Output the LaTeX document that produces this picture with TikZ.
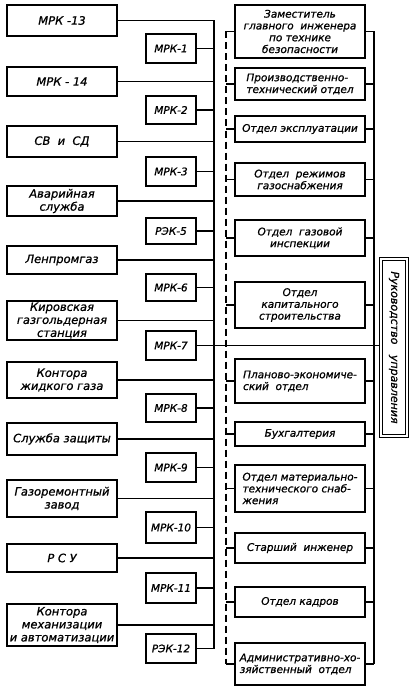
\documentclass[tikz,border=0pt]{standalone}
\usepackage{fontspec}
\setmainfont{DejaVu Sans}[ItalicFeatures={FakeBold=0.9}]
\begin{document}
\begin{tikzpicture}[x=1pt,y=-1pt,
  box/.style={draw, line width=1.4pt, inner sep=1pt, align=center},
  lbox/.style={box, minimum width=110pt, font=\itshape\fontsize{11.5}{13}\selectfont},
  sbox/.style={box, minimum width=50pt, font=\itshape\fontsize{10.5}{12}\selectfont},
  rbox/.style={box, minimum width=130pt, font=\itshape\fontsize{10.5}{11.8}\selectfont},
  wire/.style={line width=1.7pt},
  dwire/.style={line width=1.7pt, dash pattern=on 7pt off 4pt}]
\useasboundingbox (0,0) rectangle (414,690);

% left big boxes
\node[lbox, minimum height=31pt] (l1) at (62,20.5) {МРК -13};
\node[lbox, minimum height=29pt] (l2) at (62,81.5) {МРК - 14};
\node[lbox, minimum height=31pt] (l3) at (62,141.5) {СВ\ \ и\ \ СД};
\node[lbox, minimum height=30pt] (l4) at (62,201) {Аварийная\\служба};
\node[lbox, minimum height=28pt] (l5) at (62,260) {Ленпромгаз};
\node[lbox, minimum height=39pt] (l6) at (62,320.5) {Кировская\\газгольдерная\\станция};
\node[lbox, minimum height=36pt] (l7) at (62,380) {Контора\\жидкого газа};
\node[lbox, minimum height=32pt] (l8) at (62,439) {Служба защиты};
\node[lbox, minimum height=37pt] (l9) at (62,498.5) {Газоремонтный\\завод};
\node[lbox, minimum height=28pt] (l10) at (62,558) {Р\ С\ У};
\node[lbox, minimum height=42pt] (l11) at (62,625) {Контора\\механизации\\и автоматизации};

% small boxes
\node[sbox, minimum height=29pt] (s1) at (171,48.5) {МРК-1};
\node[sbox, minimum height=28pt] (s2) at (171,110) {МРК-2};
\node[sbox, minimum height=29pt] (s3) at (171,171.5) {МРК-3};
\node[sbox, minimum height=26pt] (s5) at (171,231) {РЭК-5};
\node[sbox, minimum height=27pt] (s6) at (171,287.5) {МРК-6};
\node[sbox, minimum height=29pt] (s7) at (171,345.5) {МРК-7};
\node[sbox, minimum height=28pt] (s8) at (171,408) {МРК-8};
\node[sbox, minimum height=29pt] (s9) at (171,467.5) {МРК-9};
\node[sbox, minimum height=31pt] (s10) at (171,527.5) {МРК-10};
\node[sbox, minimum height=30pt] (s11) at (171,588) {МРК-11};
\node[sbox, minimum height=29pt] (s12) at (171,648.5) {РЭК-12};

% right boxes
\node[rbox, minimum height=53pt] (r1) at (300,31.5) {Заместитель\\главного\ \ инженера\\по технике\\безопасности};
\node[rbox, minimum height=32pt, align=left] (r2) at (300,84) {Производственно-\\технический отдел};
\node[rbox, minimum height=26pt] (r3) at (300,129) {Отдел эксплуатации};
\node[rbox, minimum height=33pt] (r4) at (300,179.5) {Отдел\ \ режимов\\газоснабжения};
\node[rbox, minimum height=36pt] (r5) at (300,238) {Отдел\ \ газовой\\инспекции};
\node[rbox, minimum height=46pt] (r6) at (300,305) {Отдел\\капитального\\строительства};
\node[rbox, minimum height=44pt, align=left] (r7) at (300,381) {Планово-экономиче-\\ский\ \ отдел};
\node[rbox, minimum height=24pt] (r8) at (300,434) {Бухгалтерия};
\node[rbox, minimum height=47pt, align=left] (r9) at (300,488.5) {Отдел материально-\\технического снаб-\\жения};
\node[rbox, minimum height=30pt] (r10) at (300,548) {Старший\ \ инженер};
\node[rbox, minimum height=30pt] (r11) at (300,602) {Отдел кадров};
\node[rbox, minimum height=42pt, align=left] (r12) at (300,664) {Административно-хо-\\зяйственный\ \ отдел};

% management box
\node[draw, line width=1.1pt, double, double distance=1.6pt, minimum width=26pt, minimum height=177pt, inner sep=0pt] (ruk) at (394,347.5) {};
\node[rotate=-90, font=\itshape\fontsize{11}{13}\selectfont] (rukt) at (ruk.center) {Руководство\ \ \ управления};

% buses
\coordinate (lbT) at (214,20.5);
\coordinate (lbB) at (214,648.5);
\coordinate (dT) at (226,31.5);
\coordinate (dB) at (226,664);
\coordinate (rbT) at (374,31.5);
\coordinate (rbB) at (374,664);

\draw[wire] (lbT) -- (lbB);
\draw[dwire] (dT) -- (dB);
\draw[wire] (rbT) -- (rbB);

\foreach \n in {l1,l2,l3,l4,l5,l6,l7,l8,l9,l10,l11,s1,s2,s3,s5,s6,s8,s9,s10,s11,s12}
  \draw[wire] (\n.east) -- (\n.east -| lbT);
\draw[wire] (s7.east) -- (s7.east -| ruk.west);

\foreach \n in {r1,r2,r3,r4,r5,r6,r7,r8,r9,r10,r11,r12}{
  \draw[wire] (\n.west) -- (\n.west -| dT);
  \draw[wire] (\n.east) -- (\n.east -| rbT);
}
\end{tikzpicture}
\end{document}
